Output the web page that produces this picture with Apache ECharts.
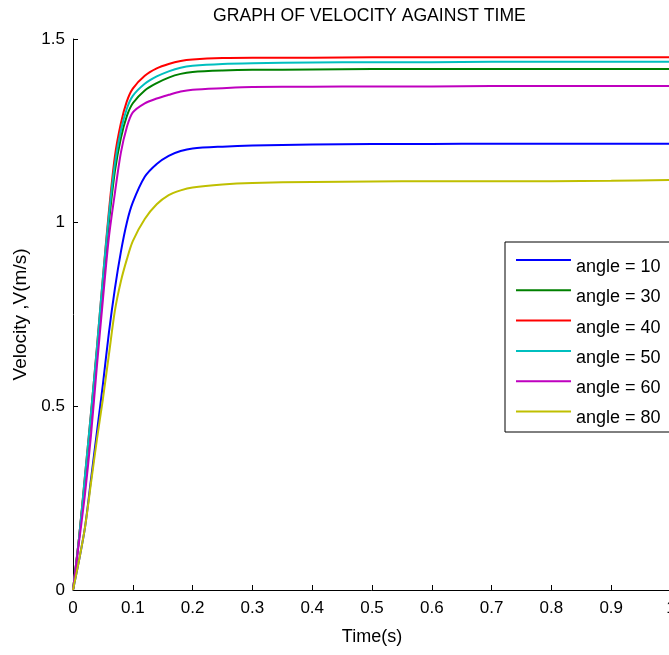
<!DOCTYPE html>
<html>
<head>
<meta charset="utf-8">
<script src="https://cdn.jsdelivr.net/npm/echarts@6/dist/echarts.min.js"></script>
<style>
html,body{margin:0;padding:0;background:#fff;}
#chart{width:669px;height:655px;}
</style>
</head>
<body>
<div id="chart"></div>
<script>
var titleText = 'GRAPH OF VELOCITY AGAINST TIME';
var xName = 'Time(s)';
var yName = 'Velocity ,V(m/s)';
var xTickLabels = ['0','0.1','0.2','0.3','0.4','0.5','0.6','0.7','0.8','0.9','1'];
var yTickLabels = ['0','0.5','1','1.5'];
var seriesNames = ['angle = 10','angle = 30','angle = 40','angle = 50','angle = 60','angle = 80'];
var time = [0,0.01,0.02,0.03,0.04,0.05,0.06,0.07,0.08,0.09,0.10,0.12,0.14,0.16,0.18,0.20,0.25,0.30,0.40,0.50,0.60,0.70,0.80,0.90,1.00];
var angle10 = [0,0.08,0.17,0.30,0.43,0.56,0.70,0.82,0.92,1.00,1.055,1.125,1.160,1.182,1.195,1.202,1.207,1.210,1.213,1.214,1.214,1.215,1.215,1.215,1.215];
var angle30 = [0,0.14,0.30,0.47,0.65,0.83,1.00,1.14,1.23,1.29,1.325,1.36,1.38,1.395,1.405,1.41,1.414,1.416,1.417,1.418,1.418,1.418,1.418,1.418,1.418];
var angle40 = [0,0.14,0.31,0.48,0.66,0.85,1.03,1.18,1.27,1.33,1.365,1.40,1.42,1.432,1.440,1.444,1.448,1.449,1.449,1.450,1.450,1.450,1.450,1.450,1.450];
var angle50 = [0,0.14,0.31,0.48,0.66,0.85,1.02,1.16,1.25,1.31,1.345,1.378,1.398,1.412,1.422,1.427,1.432,1.434,1.436,1.437,1.437,1.438,1.438,1.438,1.438];
var angle60 = [0,0.13,0.26,0.42,0.61,0.79,0.96,1.08,1.19,1.26,1.30,1.325,1.338,1.348,1.357,1.362,1.366,1.369,1.370,1.371,1.371,1.372,1.372,1.372,1.372];
var angle80 = [0,0.08,0.17,0.29,0.41,0.52,0.64,0.76,0.84,0.90,0.95,1.01,1.05,1.075,1.088,1.096,1.104,1.108,1.111,1.112,1.113,1.113,1.113,1.114,1.116];
var seriesValues = [angle10, angle30, angle40, angle50, angle60, angle80];
var colors = ['#0000FF','#008000','#FF0000','#00BFBF','#BF00BF','#BFBF00'];

var FONT = '"Liberation Sans", Arial, sans-serif';
var chart = echarts.init(document.getElementById('chart'));
var series = seriesNames.map(function(name, i){
  return {
    name: name,
    type: 'line',
    data: time.map(function(t, j){ return [t, seriesValues[i][j]]; }),
    showSymbol: false,
    symbol: 'none',
    smooth: 0.3,
    lineStyle: {color: colors[i], width: 2},
    itemStyle: {color: colors[i]},
    animation: false
  };
});
chart.setOption({
  animation: false,
  backgroundColor: '#ffffff',
  title: {
    text: titleText,
    left: 213, top: 7, padding: 0,
    textStyle: {fontFamily: FONT, fontSize: 17.6, fontWeight: 'normal', color: '#000'}
  },
  legend: {
    data: seriesNames,
    orient: 'vertical',
    left: 505, top: 242,
    padding: [15, 15, 3.5, 11],
    itemWidth: 55, itemHeight: 16,
    itemGap: 10.3,
    icon: 'path://M0,0L55,0L55,2L0,2ZM0,16L0.01,16L0.01,16.001Z',
    backgroundColor: '#fff',
    borderColor: '#000', borderWidth: 1, borderRadius: 0,
    textStyle: {fontFamily: FONT, fontSize: 18, color: '#000', lineHeight: 20}
  },
  grid: {left: 73, top: 39, width: 598, height: 551, containLabel: false, outerBoundsMode: 'none'},
  xAxis: {
    type: 'value', min: 0, max: 1, interval: 0.1,
    name: xName, nameLocation: 'middle', nameGap: 38,
    nameTextStyle: {fontFamily: FONT, fontSize: 18, color: '#000'},
    axisLine: {show: true, onZero: false, lineStyle: {color: '#000', width: 1}},
    axisTick: {show: true, inside: true, length: 5, lineStyle: {color: '#000'}},
    axisLabel: {fontFamily: FONT, fontSize: 17, color: '#000', margin: 10, hideOverlap: false,
      formatter: function(v){ return xTickLabels[Math.round(v*10)]; }},
    splitLine: {show: false}
  },
  yAxis: {
    type: 'value', min: 0, max: 1.5, interval: 0.5,
    name: yName, nameLocation: 'middle', nameGap: 40, nameRotate: 90,
    nameTextStyle: {fontFamily: FONT, fontSize: 19, color: '#000'},
    axisLine: {show: true, lineStyle: {color: '#000', width: 1}},
    axisTick: {show: true, inside: true, length: 5, lineStyle: {color: '#000'}},
    axisLabel: {fontFamily: FONT, fontSize: 17, color: '#000', margin: 8,
      formatter: function(v){ return yTickLabels[Math.round(v*2)]; }},
    splitLine: {show: false}
  },
  series: series
});
</script>
</body>
</html>
